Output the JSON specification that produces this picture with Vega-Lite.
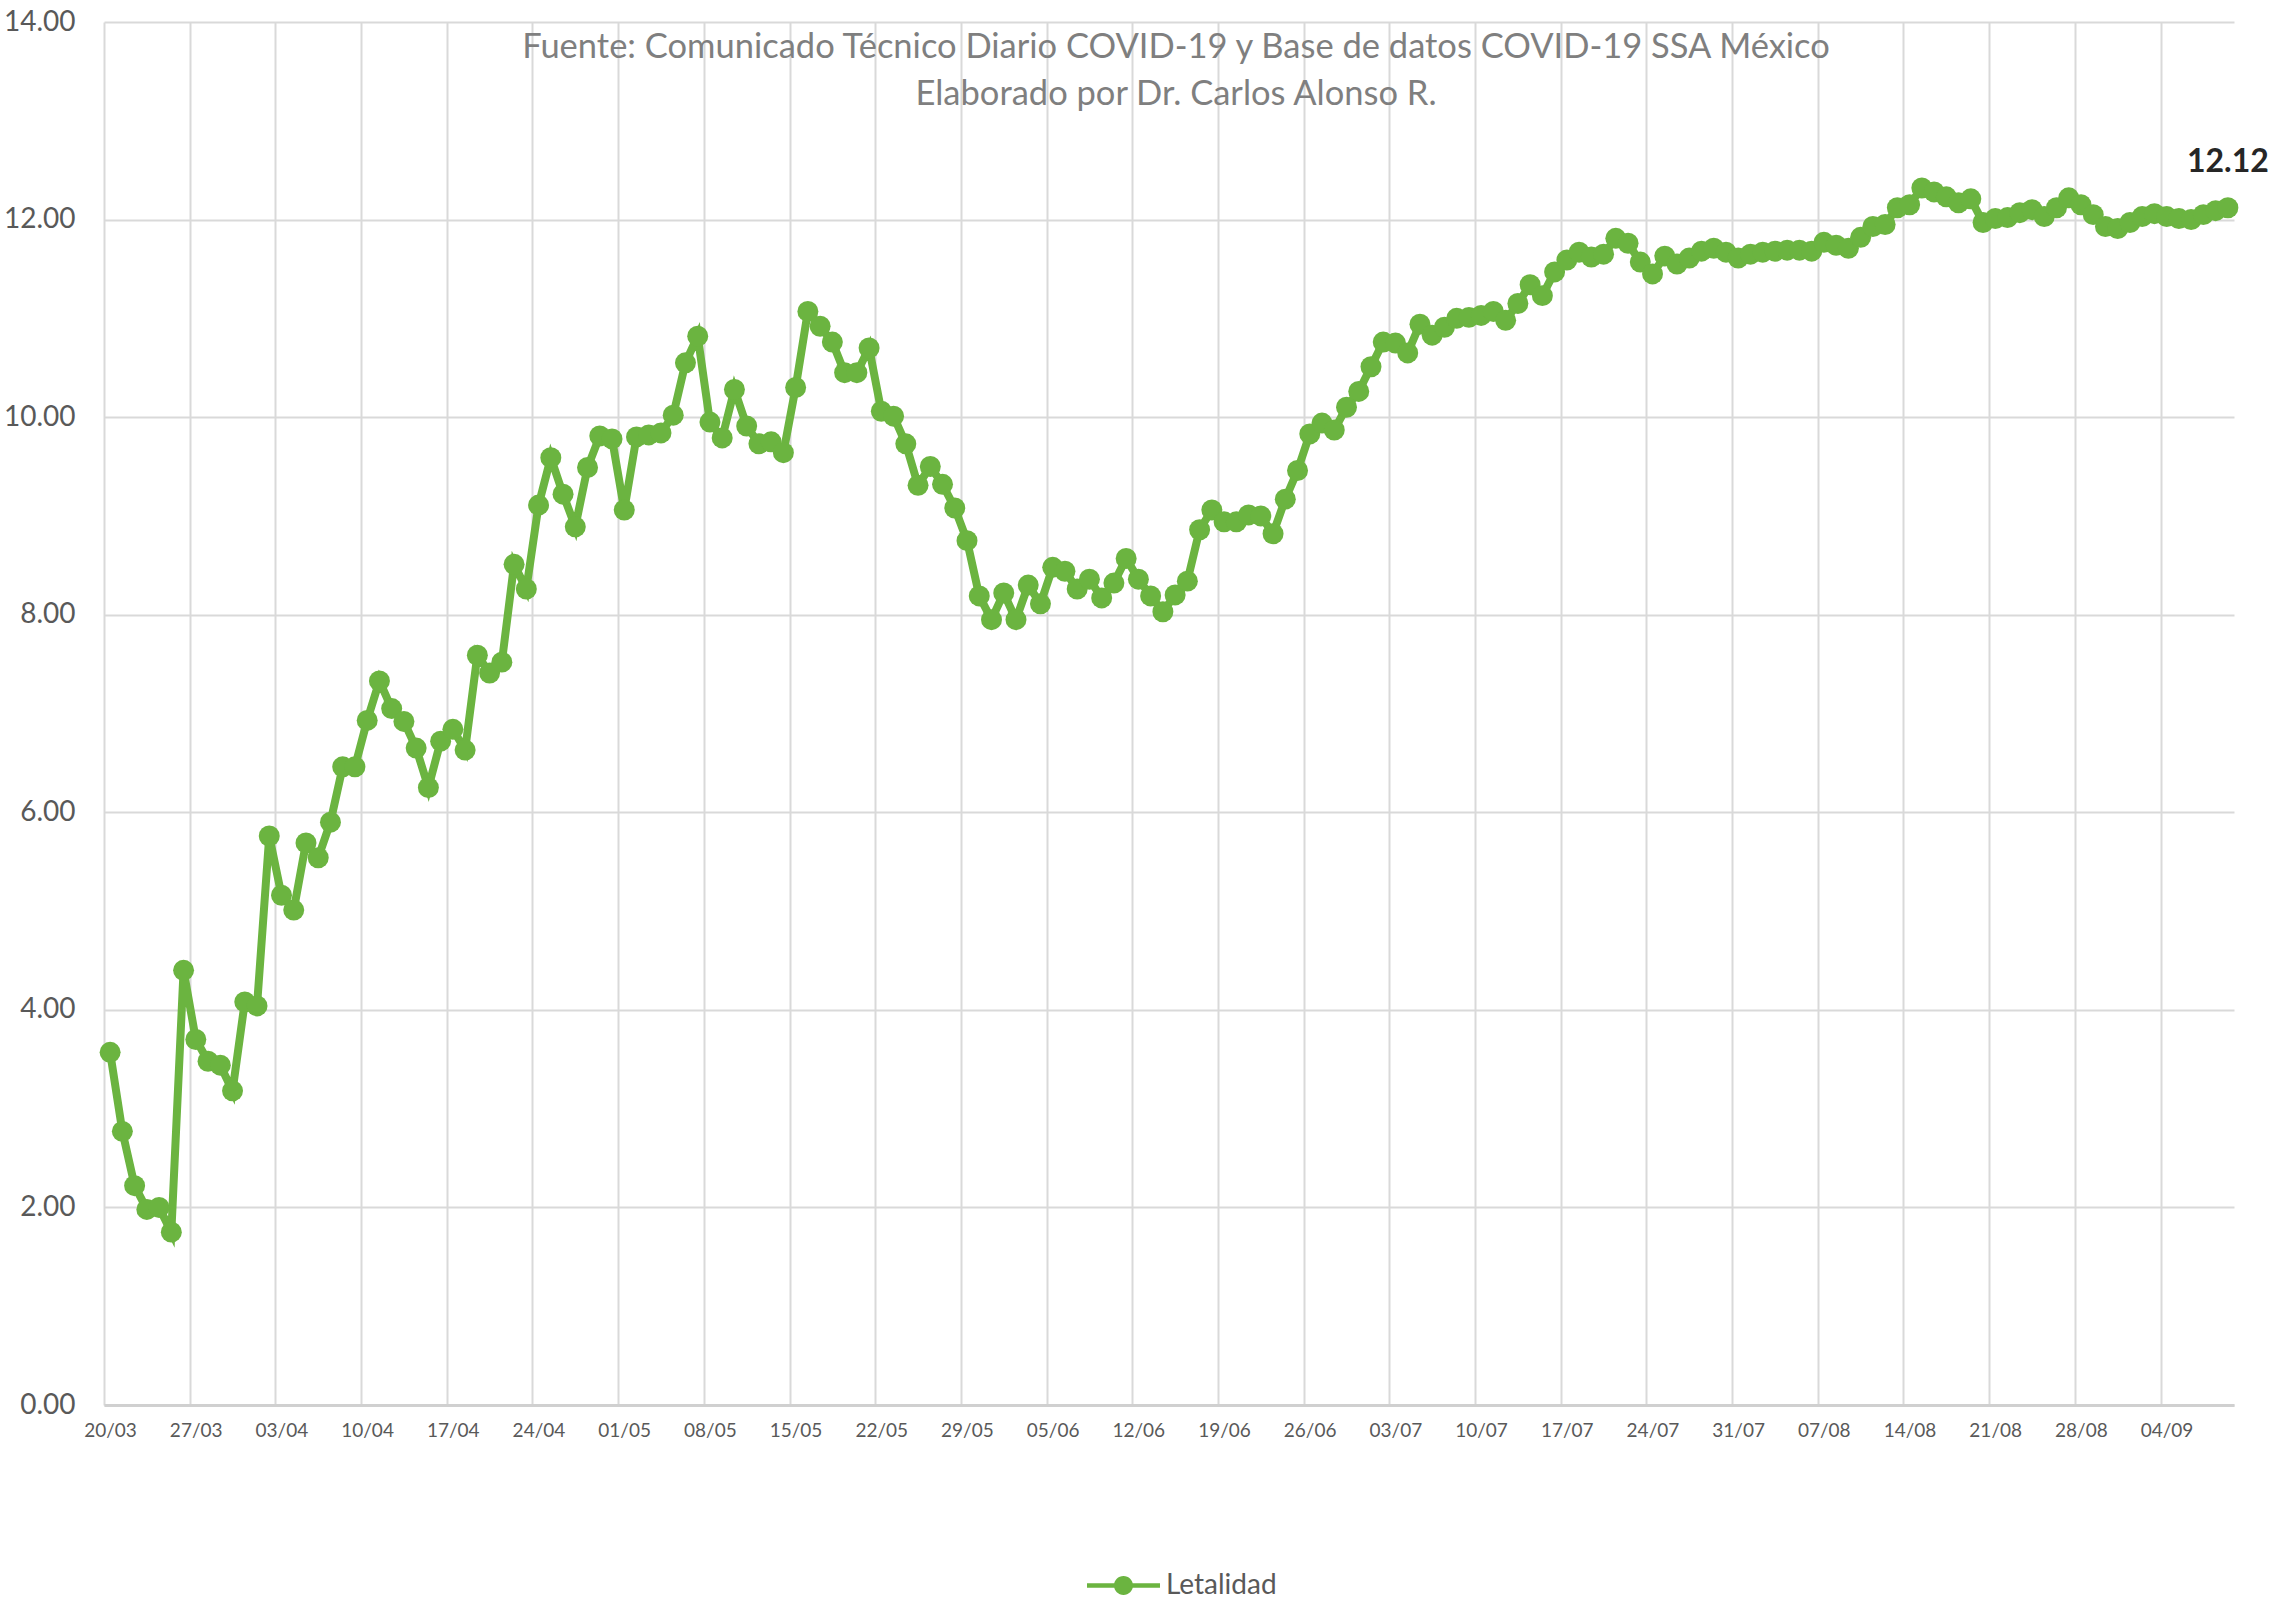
{
 "$schema": "https://vega.github.io/schema/vega-lite/v6.json",
 "width": 2130,
 "height": 1383,
 "autosize": {"type": "none"},
 "padding": {"left": 104, "top": 22, "right": 41, "bottom": 199},
 "background": "white",
 "title": {
  "text": ["Fuente: Comunicado Técnico Diario COVID-19 y Base de datos COVID-19 SSA México", "Elaborado por Dr. Carlos Alonso R."],
  "font": "Lato", "fontSize": 34.5, "fontWeight": "normal", "color": "#7f7f7f",
  "lineHeight": 47, "anchor": "middle", "baseline": "top", "offset": -104, "dx": 7, "frame": "group"
 },
 "data": {"values": [
  {"fecha":"2020-03-20","letalidad":3.57},{"fecha":"2020-03-21","letalidad":2.77},{"fecha":"2020-03-22","letalidad":2.22},{"fecha":"2020-03-23","letalidad":1.98},{"fecha":"2020-03-24","letalidad":2.00},{"fecha":"2020-03-25","letalidad":1.75},{"fecha":"2020-03-26","letalidad":4.40},{"fecha":"2020-03-27","letalidad":3.70},{"fecha":"2020-03-28","letalidad":3.48},{"fecha":"2020-03-29","letalidad":3.44},{"fecha":"2020-03-30","letalidad":3.18},{"fecha":"2020-03-31","letalidad":4.08},
  {"fecha":"2020-04-01","letalidad":4.04},{"fecha":"2020-04-02","letalidad":5.76},{"fecha":"2020-04-03","letalidad":5.16},{"fecha":"2020-04-04","letalidad":5.01},{"fecha":"2020-04-05","letalidad":5.69},{"fecha":"2020-04-06","letalidad":5.54},{"fecha":"2020-04-07","letalidad":5.90},{"fecha":"2020-04-08","letalidad":6.46},{"fecha":"2020-04-09","letalidad":6.46},{"fecha":"2020-04-10","letalidad":6.93},
  {"fecha":"2020-04-11","letalidad":7.33},{"fecha":"2020-04-12","letalidad":7.05},{"fecha":"2020-04-13","letalidad":6.92},{"fecha":"2020-04-14","letalidad":6.65},{"fecha":"2020-04-15","letalidad":6.25},{"fecha":"2020-04-16","letalidad":6.72},{"fecha":"2020-04-17","letalidad":6.84},{"fecha":"2020-04-18","letalidad":6.63},{"fecha":"2020-04-19","letalidad":7.59},{"fecha":"2020-04-20","letalidad":7.41},
  {"fecha":"2020-04-21","letalidad":7.52},{"fecha":"2020-04-22","letalidad":8.51},{"fecha":"2020-04-23","letalidad":8.26},{"fecha":"2020-04-24","letalidad":9.11},{"fecha":"2020-04-25","letalidad":9.59},{"fecha":"2020-04-26","letalidad":9.22},{"fecha":"2020-04-27","letalidad":8.89},{"fecha":"2020-04-28","letalidad":9.49},{"fecha":"2020-04-29","letalidad":9.81},{"fecha":"2020-04-30","letalidad":9.78},
  {"fecha":"2020-05-01","letalidad":9.06},{"fecha":"2020-05-02","letalidad":9.80},{"fecha":"2020-05-03","letalidad":9.82},{"fecha":"2020-05-04","letalidad":9.84},{"fecha":"2020-05-05","letalidad":10.02},{"fecha":"2020-05-06","letalidad":10.55},{"fecha":"2020-05-07","letalidad":10.82},{"fecha":"2020-05-08","letalidad":9.95},{"fecha":"2020-05-09","letalidad":9.79},{"fecha":"2020-05-10","letalidad":10.28},
  {"fecha":"2020-05-11","letalidad":9.91},{"fecha":"2020-05-12","letalidad":9.73},{"fecha":"2020-05-13","letalidad":9.75},{"fecha":"2020-05-14","letalidad":9.64},{"fecha":"2020-05-15","letalidad":10.30},{"fecha":"2020-05-16","letalidad":11.07},{"fecha":"2020-05-17","letalidad":10.92},{"fecha":"2020-05-18","letalidad":10.76},{"fecha":"2020-05-19","letalidad":10.45},{"fecha":"2020-05-20","letalidad":10.45},
  {"fecha":"2020-05-21","letalidad":10.70},{"fecha":"2020-05-22","letalidad":10.06},{"fecha":"2020-05-23","letalidad":10.01},{"fecha":"2020-05-24","letalidad":9.73},{"fecha":"2020-05-25","letalidad":9.31},{"fecha":"2020-05-26","letalidad":9.50},{"fecha":"2020-05-27","letalidad":9.32},{"fecha":"2020-05-28","letalidad":9.08},{"fecha":"2020-05-29","letalidad":8.75},{"fecha":"2020-05-30","letalidad":8.19},{"fecha":"2020-05-31","letalidad":7.95},
  {"fecha":"2020-06-01","letalidad":8.22},{"fecha":"2020-06-02","letalidad":7.95},{"fecha":"2020-06-03","letalidad":8.30},{"fecha":"2020-06-04","letalidad":8.11},{"fecha":"2020-06-05","letalidad":8.48},{"fecha":"2020-06-06","letalidad":8.44},{"fecha":"2020-06-07","letalidad":8.26},{"fecha":"2020-06-08","letalidad":8.36},{"fecha":"2020-06-09","letalidad":8.17},{"fecha":"2020-06-10","letalidad":8.32},
  {"fecha":"2020-06-11","letalidad":8.57},{"fecha":"2020-06-12","letalidad":8.36},{"fecha":"2020-06-13","letalidad":8.19},{"fecha":"2020-06-14","letalidad":8.03},{"fecha":"2020-06-15","letalidad":8.20},{"fecha":"2020-06-16","letalidad":8.34},{"fecha":"2020-06-17","letalidad":8.86},{"fecha":"2020-06-18","letalidad":9.06},{"fecha":"2020-06-19","letalidad":8.94},{"fecha":"2020-06-20","letalidad":8.94},
  {"fecha":"2020-06-21","letalidad":9.01},{"fecha":"2020-06-22","letalidad":9.00},{"fecha":"2020-06-23","letalidad":8.82},{"fecha":"2020-06-24","letalidad":9.17},{"fecha":"2020-06-25","letalidad":9.46},{"fecha":"2020-06-26","letalidad":9.83},{"fecha":"2020-06-27","letalidad":9.94},{"fecha":"2020-06-28","letalidad":9.87},{"fecha":"2020-06-29","letalidad":10.10},{"fecha":"2020-06-30","letalidad":10.26},
  {"fecha":"2020-07-01","letalidad":10.51},{"fecha":"2020-07-02","letalidad":10.76},{"fecha":"2020-07-03","letalidad":10.75},{"fecha":"2020-07-04","letalidad":10.65},{"fecha":"2020-07-05","letalidad":10.94},{"fecha":"2020-07-06","letalidad":10.83},{"fecha":"2020-07-07","letalidad":10.91},{"fecha":"2020-07-08","letalidad":11.00},{"fecha":"2020-07-09","letalidad":11.01},{"fecha":"2020-07-10","letalidad":11.03},
  {"fecha":"2020-07-11","letalidad":11.07},{"fecha":"2020-07-12","letalidad":10.98},{"fecha":"2020-07-13","letalidad":11.15},{"fecha":"2020-07-14","letalidad":11.34},{"fecha":"2020-07-15","letalidad":11.23},{"fecha":"2020-07-16","letalidad":11.47},{"fecha":"2020-07-17","letalidad":11.59},{"fecha":"2020-07-18","letalidad":11.67},{"fecha":"2020-07-19","letalidad":11.62},{"fecha":"2020-07-20","letalidad":11.65},
  {"fecha":"2020-07-21","letalidad":11.81},{"fecha":"2020-07-22","letalidad":11.76},{"fecha":"2020-07-23","letalidad":11.57},{"fecha":"2020-07-24","letalidad":11.45},{"fecha":"2020-07-25","letalidad":11.63},{"fecha":"2020-07-26","letalidad":11.55},{"fecha":"2020-07-27","letalidad":11.61},{"fecha":"2020-07-28","letalidad":11.68},{"fecha":"2020-07-29","letalidad":11.71},{"fecha":"2020-07-30","letalidad":11.67},{"fecha":"2020-07-31","letalidad":11.61},
  {"fecha":"2020-08-01","letalidad":11.65},{"fecha":"2020-08-02","letalidad":11.67},{"fecha":"2020-08-03","letalidad":11.68},{"fecha":"2020-08-04","letalidad":11.69},{"fecha":"2020-08-05","letalidad":11.69},{"fecha":"2020-08-06","letalidad":11.68},{"fecha":"2020-08-07","letalidad":11.77},{"fecha":"2020-08-08","letalidad":11.74},{"fecha":"2020-08-09","letalidad":11.71},{"fecha":"2020-08-10","letalidad":11.82},
  {"fecha":"2020-08-11","letalidad":11.93},{"fecha":"2020-08-12","letalidad":11.95},{"fecha":"2020-08-13","letalidad":12.12},{"fecha":"2020-08-14","letalidad":12.15},{"fecha":"2020-08-15","letalidad":12.32},{"fecha":"2020-08-16","letalidad":12.28},{"fecha":"2020-08-17","letalidad":12.23},{"fecha":"2020-08-18","letalidad":12.17},{"fecha":"2020-08-19","letalidad":12.21},{"fecha":"2020-08-20","letalidad":11.97},
  {"fecha":"2020-08-21","letalidad":12.01},{"fecha":"2020-08-22","letalidad":12.02},{"fecha":"2020-08-23","letalidad":12.07},{"fecha":"2020-08-24","letalidad":12.10},{"fecha":"2020-08-25","letalidad":12.03},{"fecha":"2020-08-26","letalidad":12.12},{"fecha":"2020-08-27","letalidad":12.22},{"fecha":"2020-08-28","letalidad":12.15},{"fecha":"2020-08-29","letalidad":12.05},{"fecha":"2020-08-30","letalidad":11.93},{"fecha":"2020-08-31","letalidad":11.91},
  {"fecha":"2020-09-01","letalidad":11.97},{"fecha":"2020-09-02","letalidad":12.03},{"fecha":"2020-09-03","letalidad":12.06},{"fecha":"2020-09-04","letalidad":12.03},{"fecha":"2020-09-05","letalidad":12.01},{"fecha":"2020-09-06","letalidad":12.00},{"fecha":"2020-09-07","letalidad":12.05},{"fecha":"2020-09-08","letalidad":12.09},{"fecha":"2020-09-09","letalidad":12.12}
 ]},
 "encoding": {
  "x": {
   "field": "fecha", "type": "temporal", "timeUnit": "utcyearmonthdate", "bandPosition": 0.5, "title": null,
   "scale": {"type": "utc", "domain": [{"year": 2020, "month": 3, "date": 20, "utc": true}, {"year": 2020, "month": 9, "date": 10, "utc": true}]},
   "axis": {
    "values": [
     {"year":2020,"month":3,"date":20,"utc":true},{"year":2020,"month":3,"date":27,"utc":true},{"year":2020,"month":4,"date":3,"utc":true},{"year":2020,"month":4,"date":10,"utc":true},{"year":2020,"month":4,"date":17,"utc":true},{"year":2020,"month":4,"date":24,"utc":true},{"year":2020,"month":5,"date":1,"utc":true},{"year":2020,"month":5,"date":8,"utc":true},{"year":2020,"month":5,"date":15,"utc":true},{"year":2020,"month":5,"date":22,"utc":true},{"year":2020,"month":5,"date":29,"utc":true},{"year":2020,"month":6,"date":5,"utc":true},{"year":2020,"month":6,"date":12,"utc":true},{"year":2020,"month":6,"date":19,"utc":true},{"year":2020,"month":6,"date":26,"utc":true},{"year":2020,"month":7,"date":3,"utc":true},{"year":2020,"month":7,"date":10,"utc":true},{"year":2020,"month":7,"date":17,"utc":true},{"year":2020,"month":7,"date":24,"utc":true},{"year":2020,"month":7,"date":31,"utc":true},{"year":2020,"month":8,"date":7,"utc":true},{"year":2020,"month":8,"date":14,"utc":true},{"year":2020,"month":8,"date":21,"utc":true},{"year":2020,"month":8,"date":28,"utc":true},{"year":2020,"month":9,"date":4,"utc":true}
    ],
    "format": "%d/%m", "grid": true, "ticks": false, "domain": true, "domainColor": "#d0d0d0", "domainWidth": 3,
    "labelFontSize": 19, "labelPadding": 16, "labelOffset": 6, "labelAngle": 0, "labelOverlap": false, "labelFlush": false, "labelBound": false
   }
  },
  "y": {
   "field": "letalidad", "type": "quantitative", "title": null,
   "scale": {"domain": [0, 14], "nice": false},
   "axis": {"values": [0, 2, 4, 6, 8, 10, 12, 14], "format": ".2f", "grid": true, "domain": false, "ticks": false, "labelPadding": 29, "labelFontSize": 28}
  }
 },
 "layer": [
  {
   "mark": {"type": "line", "strokeWidth": 8},
   "encoding": {
    "color": {
     "datum": "Letalidad",
     "scale": {"range": ["#6BB440"]},
     "legend": {
      "title": null, "orient": "none", "legendX": 983, "legendY": 1527, "padding": 0,
      "symbolType": "M-1,-0.065H1V0.065H-1Z M-0.26,0 A0.26,0.26 0 1,1 0.26,0 A0.26,0.26 0 1,1 -0.26,0 Z",
      "symbolSize": 5329, "symbolStrokeWidth": 0, "symbolFillColor": "#6BB440", "symbolOpacity": 1,
      "labelFont": "Lato", "labelFontSize": 28, "labelColor": "#595959", "labelOffset": 6,
      "encode": {"symbols": {"update": {"fill": {"value": "#6BB440"}, "strokeWidth": {"value": 0}, "opacity": {"value": 1}}}}
     }
    }
   }
  },
  {
   "mark": {"type": "point", "filled": true, "size": 440, "opacity": 1, "shape": "circle"},
   "encoding": {"color": {"datum": "Letalidad"}}
  },
  {
   "transform": [{"filter": {"field": "fecha", "timeUnit": "utcyearmonthdate", "equal": {"year": 2020, "month": 9, "date": 9, "utc": true}}}],
   "mark": {"type": "text", "font": "Lato", "fontSize": 32, "fontWeight": "bold", "color": "#262626", "dy": -46, "baseline": "middle", "align": "center"},
   "encoding": {"text": {"field": "letalidad", "format": ".2f"}}
  }
 ],
 "config": {
  "view": {"stroke": null},
  "font": "Lato",
  "axis": {"labelFont": "Lato", "labelColor": "#595959", "gridColor": "#d9d9d9", "gridWidth": 2}
 }
}
